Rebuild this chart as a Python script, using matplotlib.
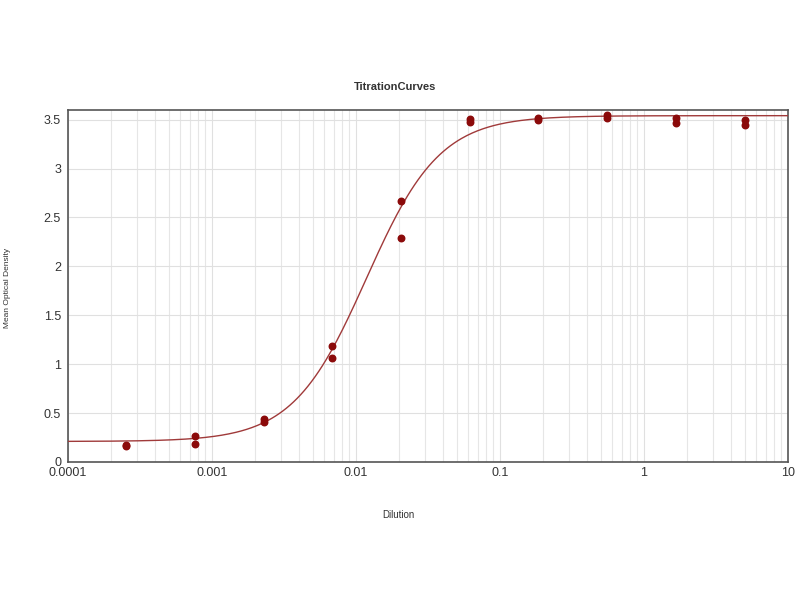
import matplotlib.pyplot as plt
import numpy as np
from matplotlib.ticker import LogLocator, NullFormatter

plt.rcParams['font.family'] = ['Liberation Sans', 'DejaVu Sans']

# Dilution series (1/3 steps) and duplicate OD readings
dilution = [0.000254, 0.000762, 0.00229, 0.00686, 0.0206, 0.0617, 0.185, 0.556, 1.667, 5.0]
od_rep1 = [0.17, 0.27, 0.44, 1.19, 2.67, 3.51, 3.52, 3.55, 3.52, 3.50]
od_rep2 = [0.16, 0.18, 0.41, 1.06, 2.29, 3.48, 3.50, 3.52, 3.46, 3.44]

# 4PL fit parameters (bottom, top, EC50, hill)
fit_bottom = 0.21
fit_top = 3.54
fit_ec50 = 0.0118
fit_hill = 1.7

x_fit = np.logspace(-4, 1, 400)
y_fit = fit_top + (fit_bottom - fit_top) / (1 + (x_fit / fit_ec50) ** fit_hill)

fig = plt.figure(figsize=(8, 6), dpi=100)
ax = fig.add_axes([0.085, 0.23, 0.90, 0.587])

ax.plot(x_fit, y_fit, color='#a03a3a', lw=1.0, zorder=3)
ax.scatter(dilution + dilution, od_rep1 + od_rep2, s=22, color='#8b0a0a', zorder=4)

ax.set_xscale('log')
ax.set_xlim(1e-4, 10)
ax.set_ylim(0, 3.6)
ax.set_xticks([1e-4, 1e-3, 1e-2, 1e-1, 1, 10])
ax.set_xticklabels(['0.0001', '0.001', '0.01', '0.1', '1', '10'])
ax.xaxis.set_minor_locator(LogLocator(base=10, subs=np.arange(2, 10), numticks=20))
ax.xaxis.set_minor_formatter(NullFormatter())
ax.set_yticks([0, 0.5, 1, 1.5, 2, 2.5, 3, 3.5])
ax.set_yticklabels(['0', '0.5', '1', '1.5', '2', '2.5', '3', '3.5'])

ax.grid(True, which='major', color='#e0e0e0', lw=0.8)
ax.grid(True, which='minor', axis='x', color='#e6e6e6', lw=0.8)
ax.set_axisbelow(True)

ax.tick_params(which='both', length=0, labelsize=9, colors='#333333')
ax.tick_params(axis='y', pad=5)
for s in ax.spines.values():
    s.set_color('#555555')
    s.set_linewidth(1.2)

fig.text(0.494, 0.855, 'TitrationCurves', ha='center', va='center', fontsize=8, fontweight='bold', color='#333333')
fig.text(0.498, 0.142, 'Dilution', ha='center', va='center', fontsize=7, color='#333333')
fig.text(0.01, 0.52, 'Mean Optical Density', ha='center', va='center', rotation=90, fontsize=6, color='#333333')

fig.savefig('out.png', dpi=100)
